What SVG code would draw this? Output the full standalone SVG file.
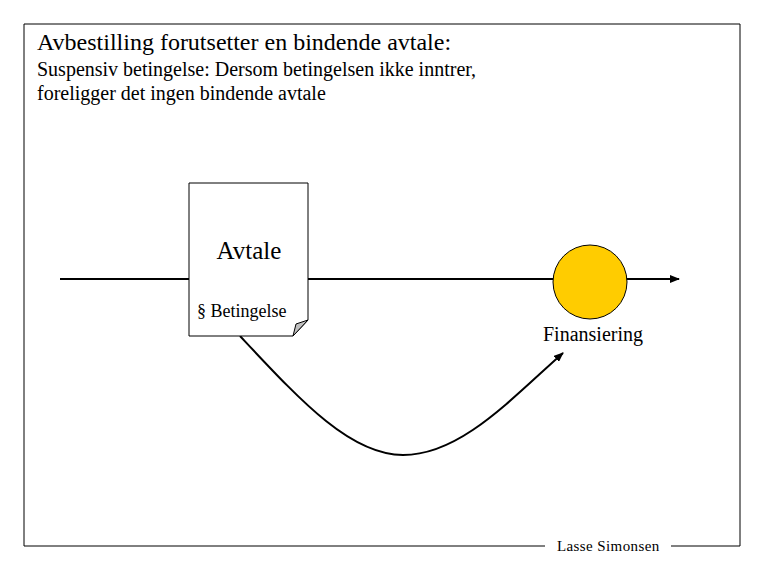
<svg xmlns="http://www.w3.org/2000/svg" width="765" height="570" viewBox="0 0 765 570">
<style>
text{font-family:"Liberation Serif","Times New Roman",serif;fill:#000}
.ln{stroke:#000;stroke-width:2;fill:none}
</style>
<defs>
<marker id="ah" markerWidth="10" markerHeight="8" refX="9" refY="4" orient="auto" markerUnits="userSpaceOnUse">
<path d="M0,0 L10,4 L0,8 Z" fill="#000"/>
</marker>
</defs>
<rect width="765" height="570" fill="#fff"/>
<g id="frame">
<path d="M545,546 H24 V24 H740 V546 H671" fill="none" stroke="#000" stroke-width="1"/>
<text x="557" y="551" font-size="15" letter-spacing="0.4">Lasse Simonsen</text>
</g>
<g id="title">
<text x="37" y="50" font-size="24">Avbestilling forutsetter en bindende avtale:</text>
<text x="37" y="76" font-size="20">Suspensiv betingelse: Dersom betingelsen ikke inntrer,</text>
<text x="37" y="100" font-size="20">foreligger det ingen bindende avtale</text>
</g>
<g id="connectors">
<line class="ln" x1="60" y1="279" x2="189" y2="279"/>
<line class="ln" x1="308" y1="279" x2="553" y2="279"/>
<line class="ln" x1="626" y1="279" x2="679" y2="279" marker-end="url(#ah)"/>
<path class="ln" d="M240,336 C300,400 350,455 403,455 C460,455 510,400 563,353" marker-end="url(#ah)"/>
</g>
<g id="avtale">
<path d="M189,183 H308 V320 L293,336 H189 Z" fill="#fff" stroke="#000" stroke-width="1"/>
<path d="M293,336 L296,324 L308,320 Z" fill="#c0c0c0" stroke="#000" stroke-width="1"/>
<text x="249" y="259" font-size="25" text-anchor="middle">Avtale</text>
<text x="197" y="317" font-size="18">§ Betingelse</text>
</g>
<g id="finansiering">
<circle cx="590" cy="282" r="37" fill="#ffcc00" stroke="#000" stroke-width="1"/>
<text x="543" y="341" font-size="20">Finansiering</text>
</g>
</svg>
